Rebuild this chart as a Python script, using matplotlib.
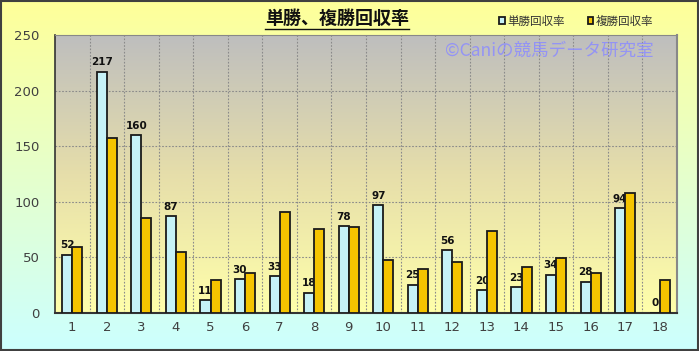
import numpy as np
import matplotlib
matplotlib.use("Agg")
import matplotlib.pyplot as plt
from matplotlib.patches import Rectangle
from matplotlib.colors import LinearSegmentedColormap

plt.rcParams['font.family'] = ['Noto Sans CJK JP', 'DejaVu Sans']

categories = [str(i) for i in range(1, 19)]
tansho = [52, 217, 160, 87, 11, 30, 33, 18, 78, 97, 25, 56, 20, 23, 34, 28, 94, 0]
fukusho = [59, 157, 85, 55, 29, 36, 91, 75, 77, 47, 39, 46, 74, 41, 49, 36, 108, 29]
series_names = ['単勝回収率', '複勝回収率']
title = '単勝、複勝回収率'
watermark = '©Caniの競馬データ研究室'

W, H = 699, 351
fig = plt.figure(figsize=(W/100, H/100), dpi=100)

# figure background gradient
bg = fig.add_axes([0, 0, 1, 1], zorder=-10)
grad = np.linspace(0, 1, 256).reshape(-1, 1)
cmap_bg = LinearSegmentedColormap.from_list('bg', ['#FFFF99', '#CCFFFF'])
bg.imshow(grad, aspect='auto', cmap=cmap_bg, extent=[0, 1, 0, 1], origin='upper')
bg.set_axis_off()
bg.add_patch(Rectangle((0.001, 0.002), 0.997, 0.995, transform=bg.transAxes,
                       fill=False, edgecolor='#404040', lw=1.5))

# plot axes
x0, x1 = 55, 677
y_top, y_bot = 35, 312.7
ax = fig.add_axes([x0/W, 1 - y_bot/H, (x1-x0)/W, (y_bot-y_top)/H])
ax.set_facecolor('none')
cmap_pa = LinearSegmentedColormap.from_list('pa', ['#BEBEBE', '#E6DEAA', '#FFFFAA'])
ax.imshow(grad, aspect='auto', cmap=cmap_pa, extent=[0.5, 18.5, 0, 250],
          origin='upper', zorder=0)

n = len(categories)
x = np.arange(1, n + 1)
bw = 0.29
ax.bar(x - bw/2, tansho, bw, color='#C6F2F7', edgecolor='#1a1a1a', lw=1.3, zorder=3,
       label=series_names[0])
ax.bar(x + bw/2, fukusho, bw, color='#F5C400', edgecolor='#1a1a1a', lw=1.3, zorder=4,
       label=series_names[1])

for xi, v in zip(x, tansho):
    ax.text(xi - bw/2, v + 4, str(v), ha='center', va='bottom',
            fontsize=7.5, fontweight='bold', color='#111111', zorder=3.5,
            family='DejaVu Sans')

ax.set_xlim(0.5, 18.5)
ax.set_ylim(0, 250)
ax.set_yticks([0, 50, 100, 150, 200, 250])
ax.set_xticks(x)
ax.set_xticklabels(categories)
ax.grid(False)
for yv in [50, 100, 150, 200]:
    ax.axhline(yv, color='#8a8a8a', lw=0.8, ls=(0, (1.5, 1.5)), zorder=1)
for xv in np.arange(1.5, 18.5, 1):
    ax.axvline(xv, color='#8a8a8a', lw=0.8, ls=(0, (1.5, 1.5)), zorder=1)

ax.tick_params(axis='both', which='both', length=0, labelsize=9.5, colors='#404040')
ax.tick_params(axis='x', pad=6)
ax.tick_params(axis='y', pad=11)
for lab in ax.get_xticklabels() + ax.get_yticklabels():
    lab.set_family('DejaVu Sans')
ax.spines['left'].set_color('#333333')
ax.spines['bottom'].set_color('#333333')
ax.spines['bottom'].set_linewidth(1.5)
ax.spines['left'].set_linewidth(1.2)
ax.spines['top'].set_color('#888888')
ax.spines['right'].set_color('#888888')
ax.spines['right'].set_linewidth(1.5)

# title with underline
t = fig.text(337/W, 1 - 18/H, title, ha='center', va='center', fontsize=13,
             fontweight='bold', color='#111111')
fig.canvas.draw()
bb = t.get_window_extent()
fig.add_artist(plt.Line2D([bb.x0/W, bb.x1/W], [1 - 29/H, 1 - 29/H],
                          transform=fig.transFigure, color='#111111', lw=1))

# watermark
fig.text(549/W, 1 - 51/H, watermark, ha='center', va='center', fontsize=12.6,
         color='#8c8cff', alpha=0.85, zorder=10)

# legend
leg = fig.legend(loc='center', bbox_to_anchor=(576/W, 1 - 21/H), ncol=2, frameon=False,
                 fontsize=8.3, handlelength=0.5, handleheight=0.5, columnspacing=2.0,
                 handletextpad=0.2, labelcolor='#333333')

fig.savefig('out.png', dpi=100)
